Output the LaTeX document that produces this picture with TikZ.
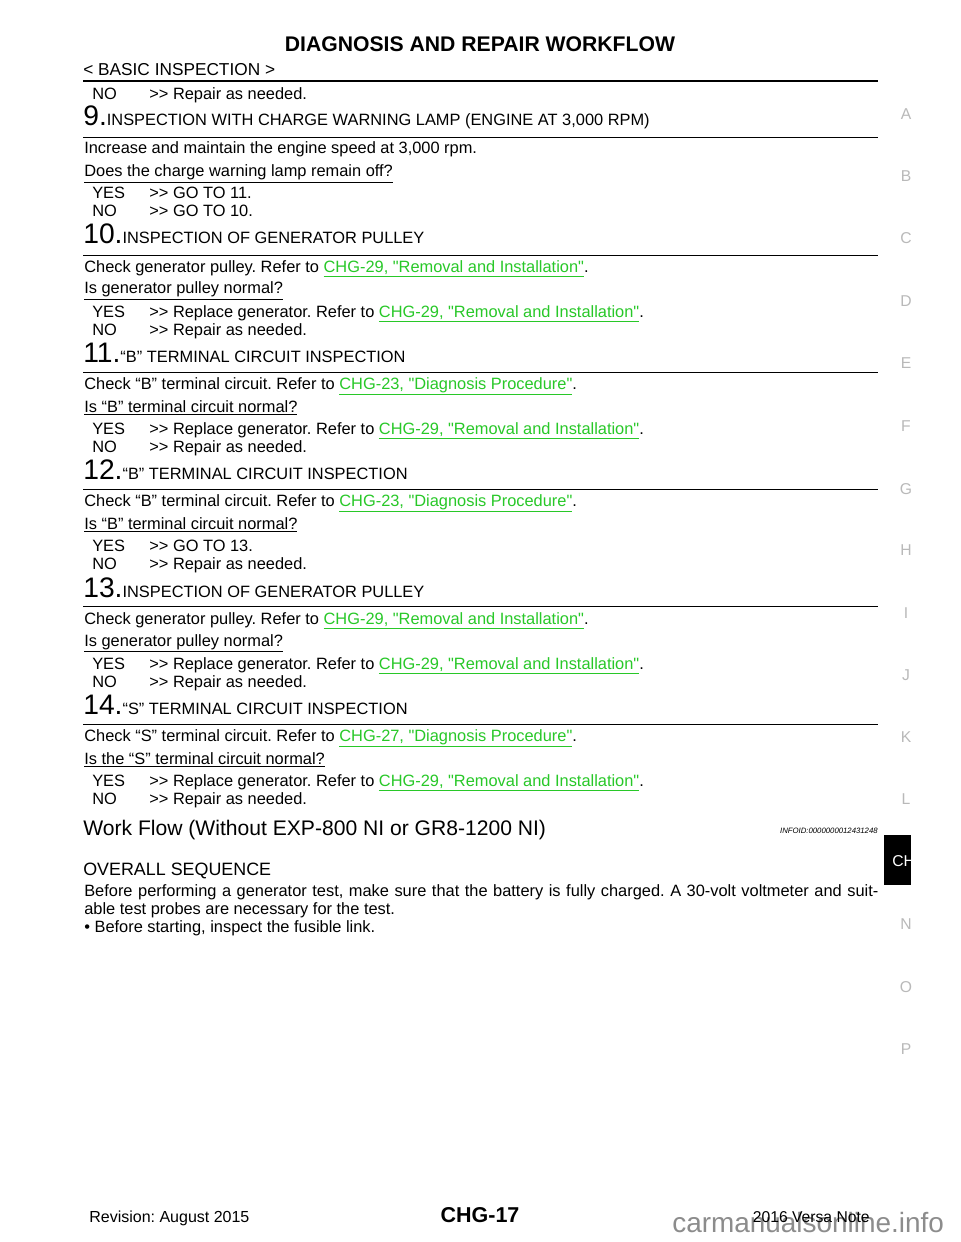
\documentclass[tikz,border=0pt]{standalone}
\usepackage{fontspec}
\setmainfont{Liberation Sans}[Ligatures=TeXOff]
\frenchspacing
\definecolor{linkgreen}{RGB}{40,200,40}
\definecolor{sidegray}{RGB}{185,185,185}
\definecolor{markgray}{RGB}{140,140,140}
\newcommand{\lnk}[1]{\textcolor{linkgreen}{\underline{#1}}}
\newcommand{\gt}{>>}
\begin{document}
\begin{tikzpicture}[x=0.6375pt, y=-0.6375pt,
  txt/.style={anchor=base west, inner sep=0pt, font=\fontsize{10.45}{12}\selectfont},
  ans/.style={txt},
  head/.style={txt},
  rulethin/.style={line width=0.6pt},
  rulethick/.style={line width=1.4pt},
  side/.style={anchor=base, inner sep=0pt, text=sidegray, font=\fontsize{10}{12}\selectfont}]
\useasboundingbox[fill=white] (0,0) rectangle (960,1242);
% page head
\node[anchor=base, inner sep=0pt, font=\fontsize{13.5}{15}\selectfont\bfseries] (title) at (480,52) {DIAGNOSIS AND REPAIR WORKFLOW};
\node[txt, font=\fontsize{11}{13}\selectfont] (section) at (83,76) {< BASIC INSPECTION >};
\coordinate (tl) at (83,81);
\coordinate (tr) at (878,81);
\draw[rulethick] (tl) -- (tr);
\node[ans] (no8) at (92,100) {NO};
\node[ans] (no8a) at (149,100) {\gt{} Repair as needed.};
% step 9
\node[head] (h9) at (83,126) {{\fontsize{18}{18}\selectfont 9.}INSPECTION WITH CHARGE WARNING LAMP (ENGINE AT 3,000 RPM)};
\coordinate (r9l) at (83,137);
\coordinate (r9r) at (878,137);
\draw[rulethin] (r9l) -- (r9r);
\node[txt] (c9) at (84,154) {Increase and maintain the engine speed at 3,000 rpm.};
\node[txt] (q9) at (84,177) {\underline{Does the charge warning lamp remain off?}};
\node[ans] (yes9) at (92,199) {YES};
\node[ans] (yes9a) at (149,199) {\gt{} GO TO 11.};
\node[ans] (no9) at (92,217) {NO};
\node[ans] (no9a) at (149,217) {\gt{} GO TO 10.};
% step 10
\node[head] (h10) at (83,244) {{\fontsize{18}{18}\selectfont 10.}INSPECTION OF GENERATOR PULLEY};
\coordinate (r10l) at (83,255);
\coordinate (r10r) at (878,255);
\draw[rulethin] (r10l) -- (r10r);
\node[txt] (c10) at (84,272) {Check generator pulley. Refer to \lnk{CHG-29, "Removal and Installation"}.};
\node[txt] (q10) at (84,294) {\underline{Is generator pulley normal?}};
\node[ans] (yes10) at (92,317) {YES};
\node[ans] (yes10a) at (149,317) {\gt{} Replace generator. Refer to \lnk{CHG-29, "Removal and Installation"}.};
\node[ans] (no10) at (92,335) {NO};
\node[ans] (no10a) at (149,335) {\gt{} Repair as needed.};
% step 11
\node[head] (h11) at (83,362) {{\fontsize{18}{18}\selectfont 11.}“B” TERMINAL CIRCUIT INSPECTION};
\coordinate (r11l) at (83,372);
\coordinate (r11r) at (878,372);
\draw[rulethin] (r11l) -- (r11r);
\node[txt] (c11) at (84,389) {Check “B” terminal circuit. Refer to \lnk{CHG-23, "Diagnosis Procedure"}.};
\node[txt] (q11) at (84,412) {\underline{Is “B” terminal circuit normal?}};
\node[ans] (yes11) at (92,434) {YES};
\node[ans] (yes11a) at (149,434) {\gt{} Replace generator. Refer to \lnk{CHG-29, "Removal and Installation"}.};
\node[ans] (no11) at (92,452) {NO};
\node[ans] (no11a) at (149,452) {\gt{} Repair as needed.};
% step 12
\node[head] (h12) at (83,479) {{\fontsize{18}{18}\selectfont 12.}“B” TERMINAL CIRCUIT INSPECTION};
\coordinate (r12l) at (83,489);
\coordinate (r12r) at (878,489);
\draw[rulethin] (r12l) -- (r12r);
\node[txt] (c12) at (84,506) {Check “B” terminal circuit. Refer to \lnk{CHG-23, "Diagnosis Procedure"}.};
\node[txt] (q12) at (84,529) {\underline{Is “B” terminal circuit normal?}};
\node[ans] (yes12) at (92,551) {YES};
\node[ans] (yes12a) at (149,551) {\gt{} GO TO 13.};
\node[ans] (no12) at (92,569) {NO};
\node[ans] (no12a) at (149,569) {\gt{} Repair as needed.};
% step 13
\node[head] (h13) at (83,597) {{\fontsize{18}{18}\selectfont 13.}INSPECTION OF GENERATOR PULLEY};
\coordinate (r13l) at (83,606);
\coordinate (r13r) at (878,606);
\draw[rulethin] (r13l) -- (r13r);
\node[txt] (c13) at (84,624) {Check generator pulley. Refer to \lnk{CHG-29, "Removal and Installation"}.};
\node[txt] (q13) at (84,646) {\underline{Is generator pulley normal?}};
\node[ans] (yes13) at (92,669) {YES};
\node[ans] (yes13a) at (149,669) {\gt{} Replace generator. Refer to \lnk{CHG-29, "Removal and Installation"}.};
\node[ans] (no13) at (92,687) {NO};
\node[ans] (no13a) at (149,687) {\gt{} Repair as needed.};
% step 14
\node[head] (h14) at (83,714) {{\fontsize{18}{18}\selectfont 14.}“S” TERMINAL CIRCUIT INSPECTION};
\coordinate (r14l) at (83,724);
\coordinate (r14r) at (878,724);
\draw[rulethin] (r14l) -- (r14r);
\node[txt] (c14) at (84,741) {Check “S” terminal circuit. Refer to \lnk{CHG-27, "Diagnosis Procedure"}.};
\node[txt] (q14) at (84,764) {\underline{Is the “S” terminal circuit normal?}};
\node[ans] (yes14) at (92,786) {YES};
\node[ans] (yes14a) at (149,786) {\gt{} Replace generator. Refer to \lnk{CHG-29, "Removal and Installation"}.};
\node[ans] (no14) at (92,804) {NO};
\node[ans] (no14a) at (149,804) {\gt{} Repair as needed.};
% work flow
\node[txt, font=\fontsize{13.45}{16}\selectfont] (wf) at (83,835) {Work Flow (Without EXP-800 NI or GR8-1200 NI)};
\node[anchor=base east, inner sep=0pt, font=\fontsize{4.95}{5}\selectfont\itshape] (infoid) at (878,833) {INFOID:0000000012431248};
\node[txt, font=\fontsize{11.4}{14}\selectfont] (overall) at (83,875) {OVERALL SEQUENCE};
\node[txt] (p1) at (84,896) {\makebox[506.2pt][s]{Before performing a generator test, make sure that the battery is fully charged. A 30-volt voltmeter and suit-}};
\node[txt] (p2) at (84,914) {able test probes are necessary for the test.};
\node[txt] (p3) at (84,932) {\textbullet\ Before starting, inspect the fusible link.};
% side index
\foreach \ltr/\yy in {A/120,B/182,C/244,D/306,E/368,F/431,G/494,H/555,I/618,J/680,K/742,L/804,N/929,O/992,P/1054}
  \node[side] (idx\ltr) at (906,\yy) {\ltr};
\begin{scope}
\clip (884,835) rectangle (911,885);
\fill[black] (884,835) rectangle (911,885);
\node[anchor=base west, inner sep=0pt, text=white, font=\fontsize{10}{12}\selectfont] (tab) at (892,866) {CH};
\end{scope}
% foot
\node[anchor=base west, inner sep=0pt, text=markgray, font=\fontsize{17.8}{20}\selectfont] (mark) at (672,1232) {carmanualsonline.info};
\node[txt, font=\fontsize{10.2}{12}\selectfont] (rev) at (89,1222) {Revision: August 2015};
\node[anchor=base, inner sep=0pt, font=\fontsize{13.7}{15}\selectfont\bfseries] (page) at (480,1222) {CHG-17};
\node[anchor=base east, inner sep=0pt, font=\fontsize{10}{12}\selectfont] (model) at (870,1222) {2016 Versa Note};
\end{tikzpicture}
\end{document}
